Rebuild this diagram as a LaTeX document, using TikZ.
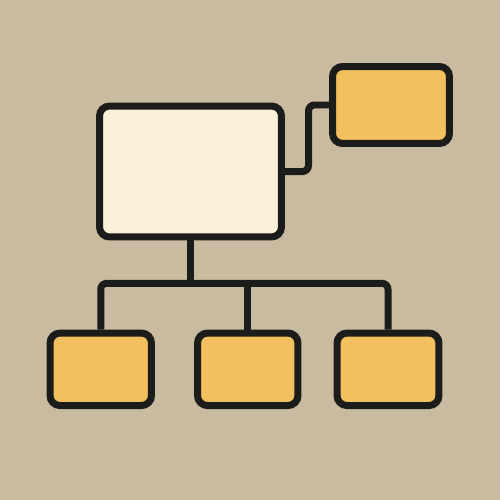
\documentclass[tikz,border=0pt]{standalone}
\definecolor{bgc}{HTML}{C9BBA0}
\definecolor{creamc}{HTML}{FDF0D8}
\definecolor{orangec}{HTML}{F2C05E}
\definecolor{inkc}{HTML}{1C1C1A}
\begin{document}
\begin{tikzpicture}[x=0.02cm,y=-0.02cm,
  box/.style={draw=inkc,line width=0.14cm,rounded corners=0.2cm,inner sep=0pt},
  mainbox/.style={box,fill=creamc,minimum width=3.64cm,minimum height=2.62cm},
  leafbox/.style={box,fill=orangec,minimum height=1.45cm},
  wire/.style={draw=inkc,line width=0.14cm,line join=round,rounded corners=0.12cm}]
\fill[bgc] (0,0) rectangle (500,500);
\useasboundingbox (0,0) rectangle (500,500);
\node[mainbox] (main) at (190.5,171.5) {};
\node[leafbox,minimum width=2.34cm,minimum height=1.54cm] (tr) at (391,105) {};
\node[leafbox,minimum width=2.03cm] (b1) at (100.75,369.3) {};
\node[leafbox,minimum width=2.01cm] (b2) at (247.75,369.3) {};
\node[leafbox,minimum width=2.04cm] (b3) at (388,369.3) {};
\coordinate (bar) at (0,283.3);
\coordinate (jog) at (308.5,0);
\draw[wire] (main.east) -- (main.east-|jog) |- (tr.west);
\draw[wire] (main.south) -- (main.south|-bar);
\draw[wire] (b1.north) -- (b1.north|-bar) -- (b3.north|-bar) -- (b3.north);
\draw[wire] (b2.north) -- (b2.north|-bar);
\end{tikzpicture}
\end{document}
